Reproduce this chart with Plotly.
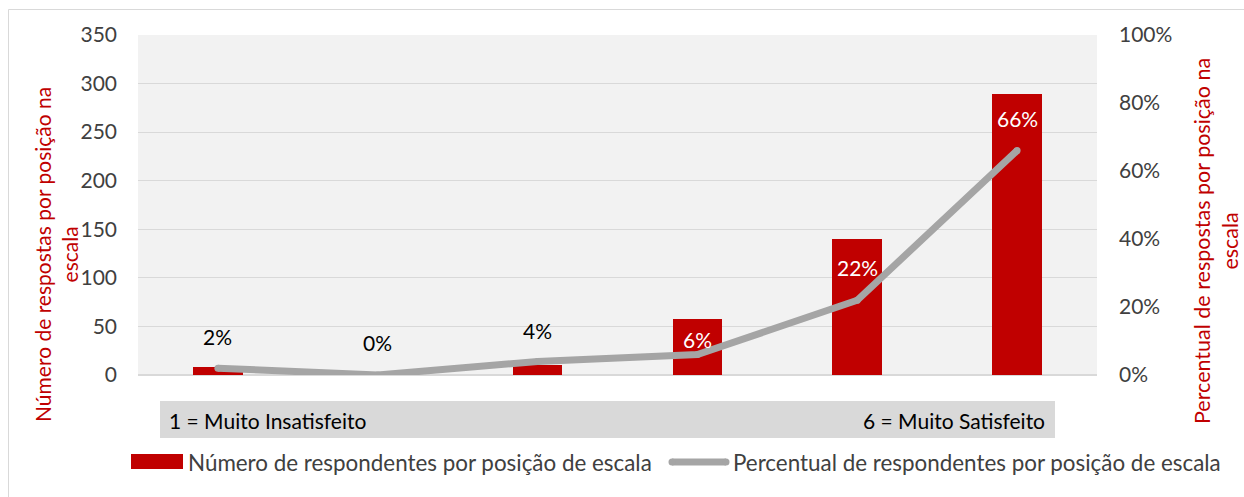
import plotly.graph_objects as go

categories = [1, 2, 3, 4, 5, 6]
respondent_counts = [8, 1, 10, 58, 140, 289]
respondent_pcts = [0.02, 0.00, 0.04, 0.06, 0.22, 0.66]
label_colors = ["#000000", "#000000", "#000000", "#ffffff", "#ffffff", "#ffffff"]
label_shifts = [32, 33, 31, 15, 33, 32]
left_ticks = [0, 50, 100, 150, 200, 250, 300, 350]
right_ticks = [0, 0.2, 0.4, 0.6, 0.8, 1.0]
bar_name = "Número de respondentes por posição de escala"
line_name = "Percentual de respondentes por posição de escala"
left_title = "Número de respostas por posição na<br>escala"
right_title = "Percentual de respostas por posição na<br>escala"
band_left = "1 = Muito Insatisfeito"
band_right = "6 = Muito Satisfeito"

RED = "#c00000"
GRAY = "#a5a5a5"
FONT = "Lato, 'Open Sans', sans-serif"
TXT = "#404040"

W, H = 1244, 497
L, R, T, B = 138, 147, 35, 122
pw = W - L - R
ph = H - T - B


def px2paper_x(px):
    return (px - L) / pw


def px2paper_y(py):
    return (H - B - py) / ph


fig = go.Figure()
fig.add_trace(go.Bar(
    x=categories, y=respondent_counts, name=bar_name,
    marker=dict(color=RED, line=dict(width=0)), width=0.31,
    yaxis="y", showlegend=False, hoverinfo="skip",
))
fig.add_trace(go.Scatter(
    x=categories, y=respondent_pcts, name=line_name, mode="lines+markers",
    line=dict(color=GRAY, width=7), marker=dict(color=GRAY, size=7, line=dict(width=0)),
    yaxis="y2", showlegend=False, hoverinfo="skip",
))

annotations = []
for c, p, col, s in zip(categories, respondent_pcts, label_colors, label_shifts):
    annotations.append(dict(
        x=c, y=p, xref="x", yref="y2", yshift=s, showarrow=False,
        text=f"{round(p * 100)}%", font=dict(family=FONT, size=21, color=col),
    ))

# axis titles
annotations.append(dict(
    x=px2paper_x(56), y=px2paper_y(255), xref="paper", yref="paper",
    xanchor="center", yanchor="middle",
    text=left_title, textangle=-90, showarrow=False,
    font=dict(family=FONT, size=21, color=RED), align="center",
))
annotations.append(dict(
    x=px2paper_x(1216), y=px2paper_y(241), xref="paper", yref="paper",
    xanchor="center", yanchor="middle",
    text=right_title, textangle=-90, showarrow=False,
    font=dict(family=FONT, size=21.5, color=RED), align="center",
))

# category band labels
annotations.append(dict(
    x=px2paper_x(167), y=px2paper_y(420), xref="paper", yref="paper",
    xanchor="left", yanchor="middle", text=band_left, showarrow=False,
    font=dict(family=FONT, size=21, color="#000000"),
))
annotations.append(dict(
    x=px2paper_x(1047), y=px2paper_y(420), xref="paper", yref="paper",
    xanchor="right", yanchor="middle", text=band_right, showarrow=False,
    font=dict(family=FONT, size=21, color="#000000"),
))

# legend (drawn manually to match the wide swatches)
annotations.append(dict(
    x=px2paper_x(186), y=px2paper_y(462), xref="paper", yref="paper",
    xanchor="left", yanchor="middle", text=bar_name, showarrow=False,
    font=dict(family=FONT, size=22.4, color=TXT),
))
annotations.append(dict(
    x=px2paper_x(731), y=px2paper_y(462), xref="paper", yref="paper",
    xanchor="left", yanchor="middle", text=line_name, showarrow=False,
    font=dict(family=FONT, size=22.4, color=TXT),
))

shapes = [
    dict(type="rect", xref="paper", yref="paper",
         x0=px2paper_x(160), x1=px2paper_x(1055),
         y0=px2paper_y(438), y1=px2paper_y(401),
         fillcolor="#d9d9d9", line=dict(width=0), layer="below"),
    dict(type="line", xref="paper", yref="paper",
         x0=px2paper_x(8.5), x1=px2paper_x(1244),
         y0=px2paper_y(9.5), y1=px2paper_y(9.5),
         line=dict(color="#d9d9d9", width=1)),
    dict(type="line", xref="paper", yref="paper",
         x0=px2paper_x(8.5), x1=px2paper_x(8.5),
         y0=px2paper_y(9.5), y1=px2paper_y(497),
         line=dict(color="#d9d9d9", width=1)),
    # legend swatches
    dict(type="rect", xref="paper", yref="paper",
         x0=px2paper_x(131), x1=px2paper_x(183),
         y0=px2paper_y(469), y1=px2paper_y(454),
         fillcolor=RED, line=dict(width=0)),
    dict(type="line", xref="paper", yref="paper",
         x0=px2paper_x(672), x1=px2paper_x(726),
         y0=px2paper_y(462), y1=px2paper_y(462),
         line=dict(color=GRAY, width=7)),
    dict(type="circle", xref="paper", yref="paper",
         x0=px2paper_x(668.5), x1=px2paper_x(675.5),
         y0=px2paper_y(465.5), y1=px2paper_y(458.5),
         fillcolor=GRAY, line=dict(width=0)),
    dict(type="circle", xref="paper", yref="paper",
         x0=px2paper_x(722.5), x1=px2paper_x(729.5),
         y0=px2paper_y(465.5), y1=px2paper_y(458.5),
         fillcolor=GRAY, line=dict(width=0)),
]

fig.update_layout(
    width=W, height=H,
    margin=dict(l=L, r=R, t=T, b=B, pad=0),
    paper_bgcolor="#ffffff", plot_bgcolor="#f2f2f2",
    font=dict(family=FONT, color=TXT),
    bargap=0,
    xaxis=dict(range=[0.5, 6.5], showticklabels=False, showgrid=False,
               zeroline=False, showline=False, fixedrange=True),
    yaxis=dict(range=[0, 350], tickvals=left_ticks, showgrid=True,
               gridcolor="#d9d9d9", gridwidth=1, zeroline=True,
               zerolinecolor="#d9d9d9", showline=False,
               tickfont=dict(family=FONT, size=21, color=TXT),
               ticklabelstandoff=20),
    yaxis2=dict(range=[0, 1], tickvals=right_ticks, tickformat=".0%",
                overlaying="y", side="right", showgrid=False,
                zeroline=False, showline=False,
                tickfont=dict(family=FONT, size=21, color=TXT),
                ticklabelstandoff=21),
    annotations=annotations,
    shapes=shapes,
    showlegend=False,
)

fig.write_html("out.html", config={"displayModeBar": False},
               post_script="document.body.style.margin='0';")
